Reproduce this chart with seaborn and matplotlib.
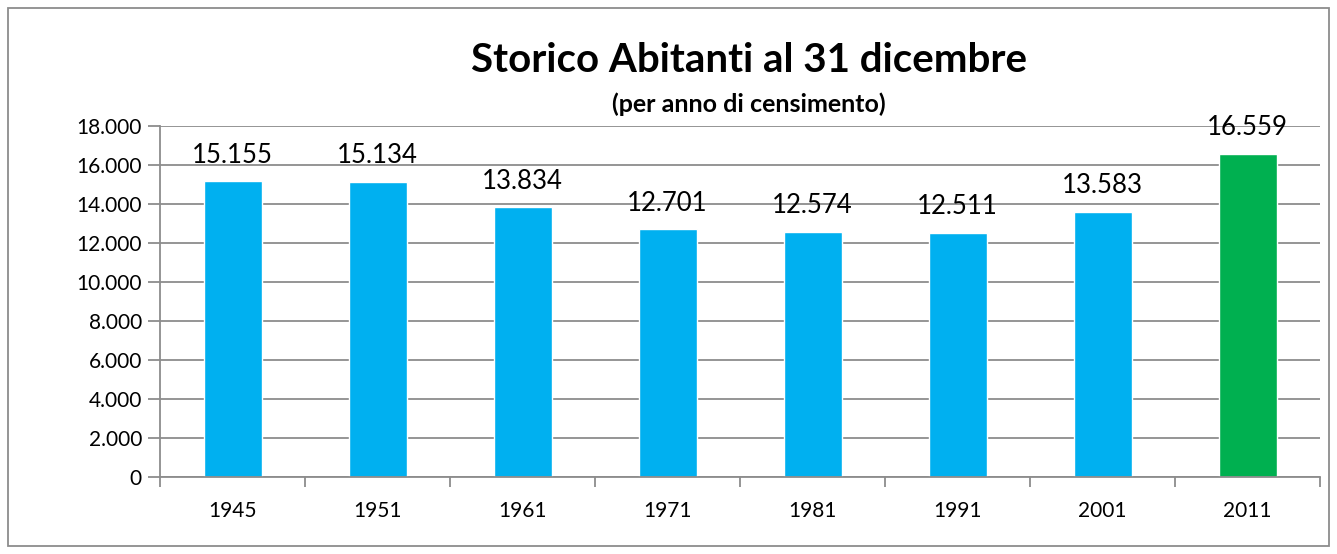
import matplotlib
matplotlib.use("Agg")
import matplotlib.pyplot as plt
import matplotlib.ticker as mticker
from matplotlib.patches import Rectangle
import pandas as pd
import seaborn as sns

anni = ["1945", "1951", "1961", "1971", "1981", "1991", "2001", "2011"]
abitanti = [15155, 15134, 13834, 12701, 12574, 12511, 13583, 16559]
colori = ["#00B0F0"] * 7 + ["#00B050"]

titolo = "Storico Abitanti al 31 dicembre"
sottotitolo = "(per anno di censimento)"


def fmt_it(v):
    return f"{int(v):,}".replace(",", ".")


def main():
    sns.set_style("white")
    plt.rcParams["font.family"] = ["Lato", "DejaVu Sans"]
    plt.rcParams["text.color"] = "black"
    plt.rcParams["xtick.labelcolor"] = "black"
    plt.rcParams["ytick.labelcolor"] = "black"

    df = pd.DataFrame({"anno": anni, "abitanti": abitanti})

    fig = plt.figure(figsize=(13.37, 5.54), dpi=100)
    ax = fig.add_axes([0.1197, 0.139, 0.8676, 0.6336])

    sns.barplot(data=df, x="anno", y="abitanti", hue="anno", palette=colori,
                width=0.4, legend=False, saturation=1, ax=ax)

    ax.set_ylim(0, 18000)
    ax.set_xlim(-0.5, len(anni) - 0.5)
    ax.yaxis.set_major_locator(mticker.MultipleLocator(2000))
    ax.yaxis.set_major_formatter(mticker.FuncFormatter(lambda v, p: fmt_it(v)))
    ax.grid(axis="y", color="#8c8c8c", linewidth=1.3)
    ax.set_axisbelow(True)
    ax.set_xlabel("")
    ax.set_ylabel("")

    for s in ["top", "right"]:
        ax.spines[s].set_visible(False)
    for s in ["left", "bottom"]:
        ax.spines[s].set_color("#8c8c8c")
        ax.spines[s].set_linewidth(1.3)

    # tick marks between the categories, like the spreadsheet chart
    ax.set_xticks([i + 0.5 for i in range(-1, len(anni))], minor=True)
    ax.tick_params(axis="x", which="major", length=0, labelsize=15, pad=17)
    ax.tick_params(axis="x", which="minor", length=7, color="#8c8c8c", width=1.3, direction="out")
    ax.tick_params(axis="y", length=9, color="#8c8c8c", width=1.3, direction="out", labelsize=15, pad=4)
    ax.tick_params(bottom=True, left=True, which="both")

    for i, v in enumerate(abitanti):
        ax.text(i, v + 700, fmt_it(v), ha="center", va="bottom", fontsize=18.5)

    fig.text(0.56, 0.89, titolo, ha="center", va="center", fontsize=29, fontweight="bold")
    fig.text(0.56, 0.812, sottotitolo, ha="center", va="center", fontsize=18, fontweight="bold")

    fig.patches.append(Rectangle((0.006, 0.014), 0.988, 0.972, transform=fig.transFigure,
                                 fill=False, edgecolor="#8c8c8c", linewidth=1.3))

    fig.savefig("out.png", dpi=100)


if __name__ == "__main__":
    main()
